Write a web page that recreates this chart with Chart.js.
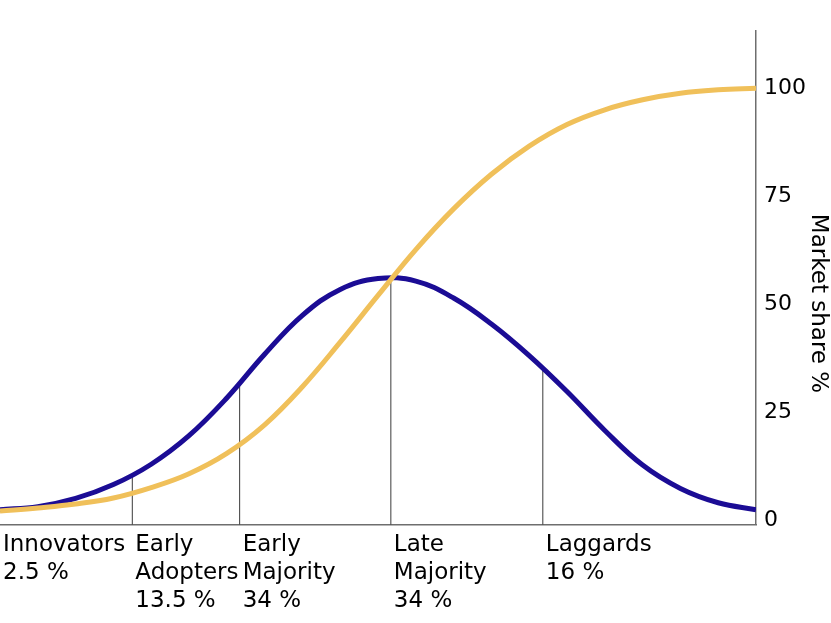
<!DOCTYPE html>
<html>
<head>
<meta charset="utf-8">
<script src="https://cdn.jsdelivr.net/npm/chart.js@4.4.1/dist/chart.umd.min.js"></script>
<style>
  body { margin: 0; background: #ffffff; }
</style>
</head>
<body>
<canvas id="adoptionChart" width="831" height="623"></canvas>
<script>
// time axis runs 0..100
const xs = [0, 5, 10, 15, 20, 25, 30, 35, 40, 45, 50, 55, 60, 65, 70, 75, 80, 85, 90, 95, 100];
const adopters = [2.1, 2.8, 4.7, 7.9, 12.6, 19.2, 27.9, 38.0, 47.0, 53.0, 55.5, 54.9, 51.0, 45.0, 37.7, 29.4, 20.4, 12.4, 7.0, 3.7, 2.1];
const marketShare = [1.8, 2.5, 3.4, 4.8, 7.2, 10.4, 15.1, 21.7, 30.5, 40.8, 51.6, 62.2, 71.6, 79.6, 86.1, 91.1, 94.5, 96.8, 98.3, 99.1, 99.5];

// adopter groups: where each one starts and how high the bell curve is there
const groupStarts = [0, 17.5, 31.7, 51.7, 71.8];
const groupTops = [2.1, 10.3, 31.8, 55.7, 34.6];
const groupNames = [["Innovators"], ["Early", "Adopters"], ["Early", "Majority"], ["Late", "Majority"], ["Laggards"]];
const groupShares = ["2.5 %", "13.5 %", "34 %", "34 %", "16 %"];

const yTicks = [0, 25, 50, 75, 100];

const Y_MIN = -1.4;
const Y_MAX = 112.7;
const FONT = "'DejaVu Sans', sans-serif";
const AXIS_GREY = "#6e6e6e";

const toPoints = (vals) => xs.map((x, i) => ({ x: x, y: vals[i] }));

// thin lines that split the bell curve into groups (the first one sits on the edge)
const dividers = groupStarts.slice(1).map((x, i) => ({
  data: [{ x: x, y: Y_MIN }, { x: x, y: groupTops[i + 1] }],
  borderColor: "#3a3a3a",
  borderWidth: 1,
  pointRadius: 0,
  tension: 0,
  order: 3,
}));

const ctx = document.getElementById("adoptionChart");
const myChart = new Chart(ctx, {
  type: "line",
  data: {
    datasets: [
      {
        label: "Market share %",
        data: toPoints(marketShare),
        borderColor: "#f0c05a",
        borderWidth: 5,
        pointRadius: 0,
        tension: 0.4,
        order: 1,
      },
      {
        label: "Adopters",
        data: toPoints(adopters),
        borderColor: "#1b0c95",
        borderWidth: 5,
        pointRadius: 0,
        tension: 0.4,
        order: 2,
      },
      ...dividers,
    ],
  },
  options: {
    responsive: false,
    animation: false,
    layout: {
      padding: { top: 31, left: 0, right: 0, bottom: 8 },
    },
    plugins: {
      legend: { display: false },
      tooltip: { enabled: false },
    },
    scales: {
      x: {
        type: "linear",
        position: "bottom",
        min: 0,
        max: 100,
        afterBuildTicks: (scale) => {
          scale.ticks = groupStarts.map((v) => ({ value: v }));
        },
        grid: { display: false, drawTicks: true, tickLength: 6 },
        border: { color: AXIS_GREY, width: 1.5 },
        ticks: {
          align: "start",
          padding: 0,
          labelOffset: 3,
          autoSkip: false,
          maxRotation: 0,
          color: "#000",
          font: { family: FONT, size: 23, lineHeight: 1.22 },
          callback: (val, index) => [...groupNames[index], groupShares[index]],
        },
      },
      y: {
        type: "linear",
        position: "right",
        min: Y_MIN,
        max: Y_MAX,
        afterBuildTicks: (scale) => {
          scale.ticks = yTicks.map((v) => ({ value: v }));
        },
        grid: { display: false, drawTicks: true, tickLength: 8 },
        border: { color: AXIS_GREY, width: 1.5 },
        ticks: {
          padding: 0,
          labelOffset: 2,
          color: "#000",
          font: { family: FONT, size: 22 },
        },
        title: {
          display: true,
          // leading spaces nudge the title a little lower, like the original
          text: "       Market share %",
          color: "#000",
          padding: { top: 2, bottom: 0 },
          font: { family: FONT, size: 23, lineHeight: 1 },
        },
      },
    },
  },
});
</script>
</body>
</html>
